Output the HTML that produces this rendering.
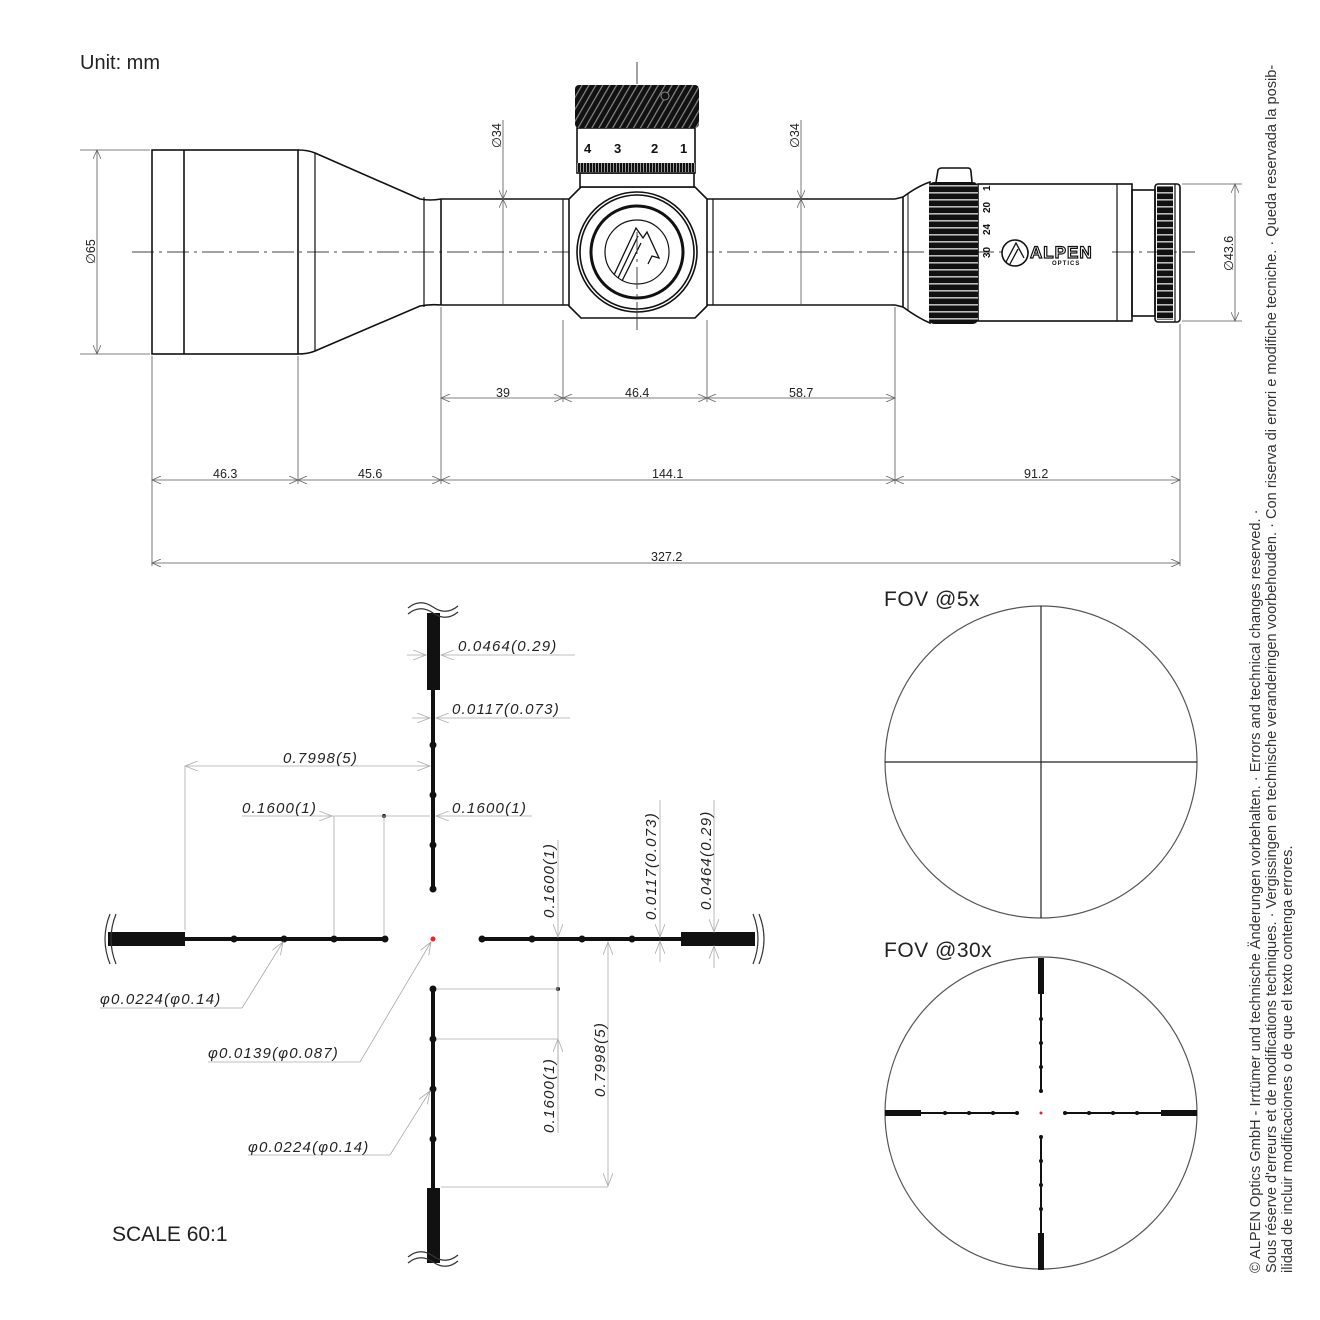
<!DOCTYPE html>
<html><head><meta charset="utf-8"><style>
html,body{margin:0;padding:0;background:#fff}
svg{display:block}
.t{font-family:"Liberation Sans",sans-serif}
.i{font-family:"Liberation Sans",sans-serif;font-style:italic;font-size:15px;letter-spacing:1.2px;fill:#222}
.d{font-family:"Liberation Sans",sans-serif;font-size:12.5px;fill:#222}
</style></head><body>
<svg width="1320" height="1320" viewBox="0 0 1320 1320" xmlns="http://www.w3.org/2000/svg">
<defs>
<pattern id="kn" width="6" height="6" patternUnits="userSpaceOnUse" patternTransform="rotate(30)"><rect width="6" height="6" fill="#111"/><rect width="1.2" height="6" fill="#888"/></pattern>
<pattern id="kh" width="4" height="7" patternUnits="userSpaceOnUse"><rect width="4" height="7" fill="#111"/><rect y="3" width="4" height="1.6" fill="#bbb"/></pattern>
<pattern id="kv" width="3" height="4" patternUnits="userSpaceOnUse"><rect width="3" height="4" fill="#111"/><rect x="1" width="1" height="4" fill="#999"/></pattern>
<marker id="a" markerWidth="10" markerHeight="8" refX="9" refY="4" orient="auto-start-reverse" markerUnits="userSpaceOnUse"><path d="M0,0 L9,4 L0,8" fill="none" stroke="#666" stroke-width="0.8"/></marker>
<marker id="g" markerWidth="14" markerHeight="10" refX="13" refY="5" orient="auto-start-reverse" markerUnits="userSpaceOnUse"><path d="M0,0 L13,5 L0,10" fill="none" stroke="#aaa" stroke-width="0.8"/></marker>
</defs>
<text x="80" y="69" class="t" font-size="20" fill="#222">Unit: mm</text>

<!-- centerline -->
<line x1="132" y1="252" x2="1195" y2="252" stroke="#444" stroke-width="1" stroke-dasharray="22,5,3,5"/>
<line x1="637" y1="62" x2="637" y2="330" stroke="#444" stroke-width="1" stroke-dasharray="22,5,3,5"/>

<g fill="none" stroke="#111" stroke-width="1.6">
<!-- objective -->
<rect x="152" y="150" width="146" height="204"/>
<line x1="184" y1="150" x2="184" y2="354"/>
<path d="M298,150 Q308,150 315,153 L420,199 Q430,201 441,199 M298,354 Q308,354 315,351 L420,306 Q430,304 441,305" />
<line x1="315" y1="153" x2="315" y2="351" stroke-width="1.2"/>
<line x1="424" y1="197" x2="424" y2="307" stroke-width="1.2"/>
<line x1="441" y1="199" x2="441" y2="305"/>
<line x1="441" y1="199" x2="569" y2="199"/><line x1="441" y1="305" x2="569" y2="305"/>
<line x1="563" y1="199" x2="563" y2="305" stroke-width="1.2"/>
<line x1="707" y1="199" x2="895" y2="199"/><line x1="707" y1="305" x2="895" y2="305"/>
<line x1="713" y1="199" x2="713" y2="305" stroke-width="1.2"/>
<!-- saddle -->
<path d="M581,187 L695,187 L707,199 L707,306 L695,318 L581,318 L569,306 L569,199 Z" fill="#fff"/>
<circle cx="637" cy="252" r="60"/><circle cx="637" cy="252" r="57"/>
<circle cx="637" cy="252" r="46" stroke-width="3"/><circle cx="637" cy="252" r="32" stroke-width="1.2"/>
<path d="M614,275 L636,228 L643,238 L647,232 L659,258 L652,256 L648,264 M618,278 L638,236 M622,281 L641,243" stroke-width="1.3"/>
<!-- turret -->
<rect x="580" y="173" width="114" height="14" fill="#fff"/>
<rect x="577" y="128" width="118" height="45" fill="#fff"/>
</g>
<line x1="637" y1="232" x2="637" y2="330" stroke="#444" stroke-width="1" stroke-dasharray="22,5,3,5"/>
<rect x="575" y="85" width="124" height="43" rx="4" fill="url(#kn)"/>
<circle cx="665" cy="96" r="4" fill="#111" stroke="#888"/>
<rect x="577" y="163" width="118" height="9" fill="url(#kv)"/>
<g class="t" font-size="13" font-weight="bold" fill="#111"><text x="584" y="153">4</text><text x="614" y="153">3</text><text x="651" y="153">2</text><text x="680" y="153">1</text></g>

<!-- eyepiece -->
<g fill="none" stroke="#111" stroke-width="1.6">
<path d="M895,199 L903,197 L903,307 L895,305"/>
<path d="M903,197 Q918,186 930,182 L930,323 Q918,318 903,307"/>
<line x1="908" y1="193" x2="908" y2="310" stroke-width="1"/>
<path d="M936,182 L938,170 Q939,168 942,168 L968,168 Q971,168 971,172 L972,182"/>
<rect x="978" y="184" width="154" height="137"/>
<line x1="1117" y1="184" x2="1117" y2="321" stroke-width="1.2"/>
<rect x="1132" y="190" width="23" height="126"/>
<rect x="1155" y="184" width="25" height="138" rx="3"/>
<line x1="1175" y1="184" x2="1175" y2="322" stroke-width="1.2"/>
</g>
<rect x="929" y="182" width="49" height="142" rx="5" fill="url(#kh)"/>
<rect x="1157" y="186" width="16" height="134" fill="url(#kh)"/>
<g class="t" font-size="10" font-weight="bold" fill="#111">
<text transform="translate(990,258) rotate(-90)">30</text>
<text transform="translate(990,235) rotate(-90)">24</text>
<text transform="translate(990,213) rotate(-90)">20</text>
<text transform="translate(990,191) rotate(-90)">1</text>
</g>
<circle cx="1015" cy="253" r="13" fill="#fff" stroke="#111" stroke-width="1.6"/>
<path d="M1006,262 L1016,243 L1024,258 M1010,264 L1018,249" fill="none" stroke="#111" stroke-width="1.3"/>
<rect x="1029" y="240" width="80" height="26" fill="#fff"/>
<text x="1030" y="258" class="t" font-size="17" font-weight="bold" fill="#fff" stroke="#111" stroke-width="1.2" letter-spacing="1">ALPEN</text>
<text x="1052" y="265" class="t" font-size="6" font-weight="bold" fill="#111" letter-spacing="1">OPTICS</text>

<!-- dimensions top -->
<g stroke="#555" stroke-width="0.8" fill="none">
<line x1="80" y1="150" x2="150" y2="150"/><line x1="80" y1="354" x2="150" y2="354"/>
<line x1="97" y1="150" x2="97" y2="354" marker-start="url(#a)" marker-end="url(#a)"/>
<line x1="503" y1="120" x2="503" y2="199" marker-end="url(#a)"/>
<line x1="503" y1="199" x2="503" y2="305" marker-start="url(#a)"/>
<line x1="801" y1="120" x2="801" y2="199" marker-end="url(#a)"/>
<line x1="801" y1="199" x2="801" y2="305" marker-start="url(#a)"/>
<line x1="1182" y1="184" x2="1242" y2="184"/><line x1="1182" y1="321" x2="1242" y2="321"/>
<line x1="1235" y1="184" x2="1235" y2="321" marker-start="url(#a)" marker-end="url(#a)"/>
<line x1="152" y1="356" x2="152" y2="566"/><line x1="298" y1="356" x2="298" y2="484"/>
<line x1="441" y1="307" x2="441" y2="484"/><line x1="563" y1="320" x2="563" y2="402"/>
<line x1="707" y1="320" x2="707" y2="402"/><line x1="895" y1="307" x2="895" y2="484"/>
<line x1="1180" y1="324" x2="1180" y2="566"/>
<line x1="441" y1="398" x2="563" y2="398" marker-start="url(#a)" marker-end="url(#a)"/>
<line x1="563" y1="398" x2="707" y2="398" marker-start="url(#a)" marker-end="url(#a)"/>
<line x1="707" y1="398" x2="895" y2="398" marker-start="url(#a)" marker-end="url(#a)"/>
<line x1="152" y1="480" x2="298" y2="480" marker-start="url(#a)" marker-end="url(#a)"/>
<line x1="298" y1="480" x2="441" y2="480" marker-start="url(#a)" marker-end="url(#a)"/>
<line x1="441" y1="480" x2="895" y2="480" marker-start="url(#a)" marker-end="url(#a)"/>
<line x1="895" y1="480" x2="1180" y2="480" marker-start="url(#a)" marker-end="url(#a)"/>
<line x1="152" y1="563" x2="1180" y2="563" marker-start="url(#a)" marker-end="url(#a)"/>
</g>
<g class="d">
<text transform="translate(95,264) rotate(-90)">∅65</text>
<text transform="translate(501,148) rotate(-90)">∅34</text>
<text transform="translate(799,148) rotate(-90)">∅34</text>
<text transform="translate(1233,271) rotate(-90)">∅43.6</text>
<text x="496" y="397">39</text><text x="625" y="397">46.4</text><text x="789" y="397">58.7</text>
<text x="213" y="478">46.3</text><text x="358" y="478">45.6</text><text x="652" y="478">144.1</text><text x="1024" y="478">91.2</text>
<text x="651" y="561">327.2</text>
</g>

<!-- reticle -->
<g fill="#111">
<rect x="108" y="932" width="77" height="14"/><rect x="185" y="937" width="200" height="4"/>
<rect x="482" y="937" width="200" height="4"/><rect x="681" y="932" width="74" height="14"/>
<rect x="427" y="613" width="13" height="77"/><rect x="431" y="690" width="4" height="199"/>
<rect x="431" y="989" width="4" height="200"/><rect x="427" y="1188" width="13" height="75"/>
<circle cx="234" cy="939" r="3.5"/><circle cx="284" cy="939" r="3.5"/><circle cx="334" cy="939" r="3.5"/><circle cx="385" cy="939" r="3.5"/>
<circle cx="482" cy="939" r="3.5"/><circle cx="532" cy="939" r="3.5"/><circle cx="582" cy="939" r="3.5"/><circle cx="632" cy="939" r="3.5"/>
<circle cx="433" cy="745" r="3.5"/><circle cx="433" cy="795" r="3.5"/><circle cx="433" cy="845" r="3.5"/><circle cx="433" cy="889" r="3.5"/>
<circle cx="433" cy="989" r="3.5"/><circle cx="433" cy="1039" r="3.5"/><circle cx="433" cy="1089" r="3.5"/><circle cx="433" cy="1139" r="3.5"/>
<circle cx="384" cy="816" r="2"/><circle cx="558" cy="989" r="2"/>
</g>
<circle cx="433" cy="939" r="2.5" fill="#e22"/>
<g fill="none" stroke="#333" stroke-width="1.2">
<path d="M110,914 Q100,939 110,964 M116,914 Q106,939 116,964"/>
<path d="M753,914 Q763,939 753,964 M759,914 Q769,939 759,964"/>
<path d="M408,614 Q420,604 433,613 Q446,622 458,612 M408,608 Q420,598 433,607 Q446,616 458,606"/>
<path d="M408,1263 Q420,1253 433,1262 Q446,1271 458,1261 M408,1257 Q420,1247 433,1256 Q446,1265 458,1255"/>
</g>
<g stroke="#aaa" stroke-width="0.8" fill="none">
<line x1="407" y1="655" x2="426" y2="655" marker-end="url(#g)"/><line x1="441" y1="655" x2="575" y2="655" marker-start="url(#g)"/>
<line x1="412" y1="718" x2="430" y2="718" marker-end="url(#g)"/><line x1="436" y1="718" x2="570" y2="718" marker-start="url(#g)"/>
<line x1="185" y1="766" x2="430" y2="766" marker-start="url(#g)" marker-end="url(#g)"/>
<line x1="185" y1="766" x2="185" y2="930"/>
<line x1="242" y1="816" x2="332" y2="816" marker-end="url(#g)"/><line x1="332" y1="816" x2="430" y2="816"/>
<line x1="436" y1="816" x2="532" y2="816" marker-start="url(#g)"/>
<line x1="334" y1="816" x2="334" y2="935"/><line x1="384" y1="816" x2="384" y2="935"/>
<line x1="558" y1="840" x2="558" y2="937" marker-end="url(#g)"/>
<line x1="558" y1="941" x2="558" y2="1133"/>
<line x1="437" y1="989" x2="558" y2="989"/><line x1="437" y1="1039" x2="558" y2="1039"/>
<line x1="558" y1="1039" x2="558" y2="1100" marker-start="url(#g)"/>
<line x1="660" y1="800" x2="660" y2="937" marker-end="url(#g)"/><line x1="660" y1="941" x2="660" y2="962" marker-start="url(#g)"/>
<line x1="714" y1="800" x2="714" y2="932" marker-end="url(#g)"/><line x1="714" y1="946" x2="714" y2="968" marker-start="url(#g)"/>
<line x1="608" y1="942" x2="608" y2="1186" marker-start="url(#g)" marker-end="url(#g)"/>
<line x1="441" y1="1187" x2="608" y2="1187"/>
<line x1="100" y1="1008" x2="242" y2="1008"/><line x1="242" y1="1008" x2="283" y2="942" marker-end="url(#g)"/>
<line x1="208" y1="1062" x2="360" y2="1062"/><line x1="360" y1="1062" x2="431" y2="942" marker-end="url(#g)"/>
<line x1="248" y1="1155" x2="390" y2="1155"/><line x1="390" y1="1155" x2="430" y2="1091" marker-end="url(#g)"/>
</g>
<g class="i">
<text x="458" y="651">0.0464(0.29)</text>
<text x="452" y="714">0.0117(0.073)</text>
<text x="283" y="763">0.7998(5)</text>
<text x="242" y="813">0.1600(1)</text>
<text x="452" y="813">0.1600(1)</text>
<text x="100" y="1004">φ0.0224(φ0.14)</text>
<text x="208" y="1058">φ0.0139(φ0.087)</text>
<text x="248" y="1152">φ0.0224(φ0.14)</text>
<text transform="translate(554,918) rotate(-90)">0.1600(1)</text>
<text transform="translate(656,920) rotate(-90)">0.0117(0.073)</text>
<text transform="translate(711,910) rotate(-90)">0.0464(0.29)</text>
<text transform="translate(554,1133) rotate(-90)">0.1600(1)</text>
<text transform="translate(605,1097) rotate(-90)">0.7998(5)</text>
</g>
<text x="112" y="1241" class="t" font-size="21" fill="#222">SCALE 60:1</text>

<!-- FOV -->
<text x="884" y="606" class="t" font-size="21" fill="#222" letter-spacing="0.5">FOV @5x</text>
<circle cx="1041" cy="762" r="156" fill="none" stroke="#555" stroke-width="1.2"/>
<line x1="885" y1="762" x2="1197" y2="762" stroke="#222" stroke-width="1.2"/>
<line x1="1041" y1="606" x2="1041" y2="918" stroke="#222" stroke-width="1.2"/>
<text x="884" y="957" class="t" font-size="21" fill="#222" letter-spacing="0.5">FOV @30x</text>
<circle cx="1041" cy="1113" r="156" fill="none" stroke="#555" stroke-width="1.2"/>
<g fill="#111">
<rect x="1038" y="958" width="6" height="36"/><rect x="1040" y="994" width="2" height="97"/>
<rect x="1038" y="1233" width="6" height="37"/><rect x="1040" y="1137" width="2" height="96"/>
<rect x="885" y="1110" width="36" height="6"/><rect x="921" y="1112" width="97" height="2"/>
<rect x="1161" y="1110" width="36" height="6"/><rect x="1064" y="1112" width="97" height="2"/>
<circle cx="1041" cy="1019" r="2"/><circle cx="1041" cy="1043" r="2"/><circle cx="1041" cy="1067" r="2"/><circle cx="1041" cy="1091" r="2"/>
<circle cx="1041" cy="1137" r="2"/><circle cx="1041" cy="1161" r="2"/><circle cx="1041" cy="1185" r="2"/><circle cx="1041" cy="1209" r="2"/>
<circle cx="945" cy="1113" r="2"/><circle cx="969" cy="1113" r="2"/><circle cx="993" cy="1113" r="2"/><circle cx="1017" cy="1113" r="2"/>
<circle cx="1065" cy="1113" r="2"/><circle cx="1089" cy="1113" r="2"/><circle cx="1113" cy="1113" r="2"/><circle cx="1137" cy="1113" r="2"/>
</g>
<circle cx="1041" cy="1113" r="1.5" fill="#e22"/>

<!-- side text -->
<g class="t" font-size="14.6" fill="#333">
<text transform="translate(1260,1273) rotate(-90)">© ALPEN Optics GmbH - Irrtümer und technische Änderungen vorbehalten. · Errors and technical changes reserved. ·</text>
<text transform="translate(1276,1273) rotate(-90)">Sous réserve d'erreurs et de modifications techniques. · Vergissingen en technische veranderingen voorbehouden. · Con riserva di errori e modifiche tecniche. · Queda reservada la posib-</text>
<text transform="translate(1292,1273) rotate(-90)">ilidad de incluir modificaciones o de que el texto contenga errores.</text>
</g>
</svg>
</body></html>
